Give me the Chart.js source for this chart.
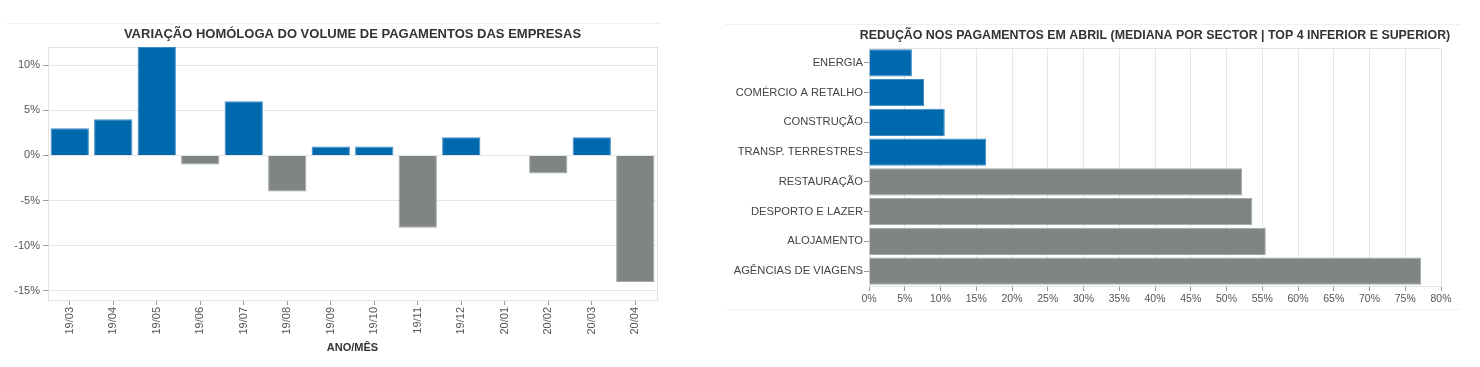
<!DOCTYPE html>
<html>
<head>
<meta charset="utf-8">
<script src="https://cdn.jsdelivr.net/npm/chart.js@4/dist/chart.umd.min.js"></script>
<style>
  html, body { margin: 0; padding: 0; background: #fff; }
  body { width: 1480px; height: 367px; position: relative; overflow: hidden; font-family: "Liberation Sans", Arial, sans-serif; }
  canvas { position: absolute; top: 0; }
  #c1 { left: 0; }
  #c2 { left: 700px; }
  .rule { position: absolute; height: 1px; background: #f0f0f0; }
</style>
</head>
<body>
<div class="rule" style="left:7px; width:653px; top:23px;"></div>
<div class="rule" style="left:725px; width:735px; top:24px;"></div>
<div class="rule" style="left:725px; width:735px; top:309px;"></div>
<canvas id="c1" width="700" height="367"></canvas>
<canvas id="c2" width="780" height="367"></canvas>
<script>
// ---- Data: left chart ----
const monthLabels = ['19/03','19/04','19/05','19/06','19/07','19/08','19/09','19/10','19/11','19/12','20/01','20/02','20/03','20/04'];
const monthChange = [3, 4, 12, -1, 6, -4, 1, 1, -8, 2, 0, -2, 2, -14];
const leftYTicks = [-15, -10, -5, 0, 5, 10];
const leftTitle = 'VARIAÇÃO HOMÓLOGA DO VOLUME DE PAGAMENTOS DAS EMPRESAS';
const leftXTitle = 'ANO/MÊS';

// ---- Data: right chart ----
const sectorLabels = ['ENERGIA','COMÉRCIO A RETALHO','CONSTRUÇÃO','TRANSP. TERRESTRES','RESTAURAÇÃO','DESPORTO E LAZER','ALOJAMENTO','AGÊNCIAS DE VIAGENS'];
const sectorReduction = [6.0, 7.7, 10.6, 16.4, 52.2, 53.6, 55.5, 77.2];
const sectorGroup = ['low','low','low','low','high','high','high','high'];
const rightXTicks = [0,5,10,15,20,25,30,35,40,45,50,55,60,65,70,75,80];
const rightTitle = 'REDUÇÃO NOS PAGAMENTOS EM ABRIL (MEDIANA POR SECTOR | TOP 4 INFERIOR E SUPERIOR)';

const BLUE = '#0069ae';
const BLUE_EDGE = '#3b8ac4';
const GREY = '#7e8584';
const GREY_EDGE = '#a3a8a7';
const FONT = '"Liberation Sans", Arial, sans-serif';

Chart.defaults.font.family = FONT;
Chart.defaults.animation = false;

const framePlugin = {
  id: 'frame',
  beforeDatasetsDraw(chart) {
    const a = chart.chartArea, ctx = chart.ctx;
    ctx.save();
    ctx.strokeStyle = '#e2e2e2';
    ctx.lineWidth = 1;
    ctx.strokeRect(Math.round(a.left) + 0.5, Math.round(a.top) + 0.5, Math.round(a.right - a.left), Math.round(a.bottom - a.top));
    ctx.restore();
  }
};

// Title centred over the plot area (as in the reference)
const areaTitlePlugin = {
  id: 'areaTitle',
  afterDraw(chart, args, opts) {
    const a = chart.chartArea, ctx = chart.ctx;
    ctx.save();
    ctx.fillStyle = '#333';
    ctx.font = 'bold ' + opts.size + 'px ' + FONT;
    ctx.textAlign = 'center';
    ctx.textBaseline = 'middle';
    ctx.fillText(opts.text, (a.left + a.right) / 2, opts.y);
    ctx.restore();
  }
};

new Chart(document.getElementById('c1'), {
  type: 'bar',
  data: {
    labels: monthLabels,
    datasets: [{
      data: monthChange,
      backgroundColor: monthChange.map(v => v >= 0 ? BLUE : GREY),
      borderColor: monthChange.map(v => v >= 0 ? BLUE_EDGE : GREY_EDGE),
      borderWidth: 1,
      barPercentage: 0.88,
      categoryPercentage: 1.0
    }]
  },
  plugins: [framePlugin, areaTitlePlugin],
  options: {
    responsive: false,
    layout: { padding: { left: 0, right: 43, top: 47, bottom: 0 } },
    plugins: {
      legend: { display: false },
      tooltip: { enabled: false },
      title: { display: false },
      areaTitle: { text: leftTitle, size: 13, y: 34 }
    },
    scales: {
      x: {
        afterFit(s) { s.height = 67; },
        grid: { display: true, drawOnChartArea: false, offset: false, tickLength: 5, tickColor: '#999' },
        border: { color: '#aaa' },
        ticks: { color: '#555', font: { size: 11 }, minRotation: 90, maxRotation: 90, autoSkip: false, padding: 2 },
        title: { display: true, text: leftXTitle, color: '#333', font: { size: 11, weight: 'bold' }, padding: { top: 2, bottom: 12 } }
      },
      y: {
        min: -16,
        max: 12,
        afterFit(s) { s.width = 48; },
        afterBuildTicks(s) { s.ticks = leftYTicks.map(v => ({ value: v })); },
        grid: { color: '#e6e6e6', tickColor: '#999', tickLength: 5 },
        border: { color: '#aaa' },
        ticks: { color: '#555', font: { size: 11 }, padding: 3, callback: v => v + '%' }
      }
    }
  }
});

new Chart(document.getElementById('c2'), {
  type: 'bar',
  data: {
    labels: sectorLabels,
    datasets: [{
      data: sectorReduction,
      backgroundColor: sectorGroup.map(g => g === 'low' ? BLUE : GREY),
      borderColor: sectorGroup.map(g => g === 'low' ? BLUE_EDGE : GREY_EDGE),
      borderWidth: 1,
      barPercentage: 0.92,
      categoryPercentage: 1.0
    }]
  },
  plugins: [framePlugin, areaTitlePlugin],
  options: {
    indexAxis: 'y',
    responsive: false,
    layout: { padding: { left: 0, right: 39, top: 48, bottom: 0 } },
    plugins: {
      legend: { display: false },
      tooltip: { enabled: false },
      title: { display: false },
      areaTitle: { text: rightTitle, size: 12.4, y: 36 }
    },
    scales: {
      x: {
        min: 0,
        max: 80,
        afterFit(s) { s.height = 81; },
        afterBuildTicks(s) { s.ticks = rightXTicks.map(v => ({ value: v })); },
        grid: { color: '#e6e6e6', tickColor: '#999', tickLength: 5 },
        border: { color: '#aaa' },
        ticks: { color: '#555', font: { size: 10.5 }, autoSkip: false, maxRotation: 0, padding: 2, callback: v => v + '%' }
      },
      y: {
        afterFit(s) { s.width = 169; },
        grid: { display: true, drawOnChartArea: false, offset: false, tickLength: 5, tickColor: '#999' },
        border: { color: '#aaa' },
        ticks: { color: '#444', font: { size: 11.2 }, autoSkip: false, padding: 1 }
      }
    }
  }
});
</script>
</body>
</html>
